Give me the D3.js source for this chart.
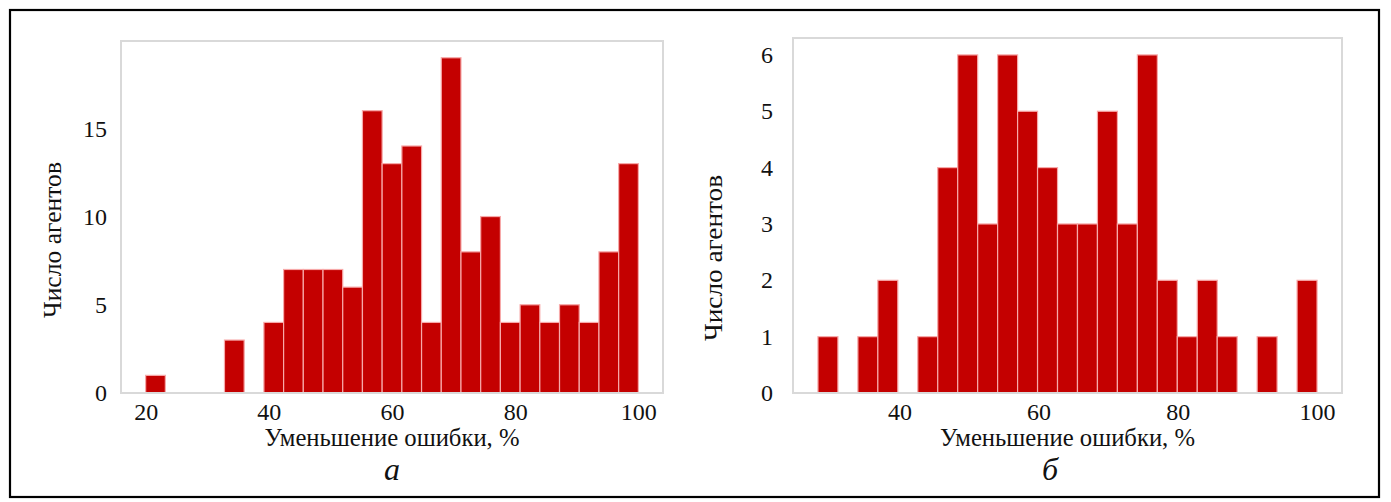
<!DOCTYPE html>
<html>
<head>
<meta charset="utf-8">
<script src="https://cdn.jsdelivr.net/npm/d3@7"></script>
<style>
  body { margin: 0; background: #fff; }
  text { font-family: "Liberation Serif", "Times New Roman", serif; fill: #111; }
</style>
</head>
<body>
<script>
const w = 1391;
const h = 502;

// histogram a: 25 bins from 20 to 100
const countsA = [1, 0, 0, 0, 3, 0, 4, 7, 7, 7, 6, 16, 13, 14, 4, 19, 8, 10, 4, 5, 4, 5, 4, 8, 13];
const rangeA = [20, 100];
const xTicksA = [20, 40, 60, 80, 100];
const yTicksA = [0, 5, 10, 15];

// histogram б: 25 bins from 28.3 to 100
const countsB = [1, 0, 1, 2, 0, 1, 4, 6, 3, 6, 5, 4, 3, 3, 5, 3, 6, 2, 1, 2, 1, 0, 1, 0, 2];
const rangeB = [28.3, 100];
const xTicksB = [40, 60, 80, 100];
const yTicksB = [0, 1, 2, 3, 4, 5, 6];

const xTitle = "Уменьшение ошибки, %";
const yTitle = "Число агентов";

const svg = d3.select("body")
  .append("svg")
  .attr("width", w)
  .attr("height", h);

svg.append("rect")
  .attr("x", 10).attr("y", 10)
  .attr("width", 1369).attr("height", 487)
  .attr("fill", "none")
  .attr("stroke", "#000")
  .attr("stroke-width", 2.2);

function drawHist(p) {
  const n = p.counts.length;
  const step = (p.range[1] - p.range[0]) / n;
  const pad = (p.range[1] - p.range[0]) * 0.05;
  const yMax = d3.max(p.counts) * 1.05;

  const xScale = d3.scaleLinear()
    .domain([p.range[0] - pad, p.range[1] + pad])
    .range([p.left, p.right]);
  const yScale = d3.scaleLinear()
    .domain([0, yMax])
    .range([p.bottom, p.top]);

  const g = svg.append("g");

  const bins = p.counts.map((c, i) => ({ c: c, x0: p.range[0] + i * step }))
    .filter(d => d.c > 0);

  g.selectAll("rect.bar")
    .data(bins)
    .enter()
    .append("rect")
    .attr("class", "bar")
    .attr("x", d => xScale(d.x0))
    .attr("width", xScale(p.range[0] + step) - xScale(p.range[0]))
    .attr("y", d => yScale(d.c))
    .attr("height", d => yScale(0) - yScale(d.c))
    .attr("fill", "#c40000")
    .attr("stroke", "#f7a9a9")
    .attr("stroke-width", 1.2);

  g.append("rect")
    .attr("x", p.left).attr("y", p.top)
    .attr("width", p.right - p.left)
    .attr("height", p.bottom - p.top)
    .attr("fill", "none")
    .attr("stroke", "#d9d9d9")
    .attr("stroke-width", 2);

  const xAxis = d3.axisBottom(xScale)
    .tickValues(p.xTicks)
    .tickFormat(d3.format("d"))
    .tickSize(0)
    .tickPadding(10);
  const yAxis = d3.axisLeft(yScale)
    .tickValues(p.yTicks)
    .tickFormat(d3.format("d"))
    .tickSize(0)
    .tickPadding(p.yPad);

  const gx = g.append("g")
    .attr("transform", "translate(0," + p.bottom + ")")
    .call(xAxis);
  const gy = g.append("g")
    .attr("transform", "translate(" + p.left + ",0)")
    .call(yAxis);
  [gx, gy].forEach(a => {
    a.select(".domain").remove();
    a.selectAll("text")
      .attr("font-family", "Liberation Serif")
      .attr("font-size", 24)
      .attr("fill", "#111");
  });

  g.append("text")
    .attr("x", (p.left + p.right) / 2)
    .attr("y", 446)
    .attr("text-anchor", "middle")
    .attr("font-size", 25)
    .attr("textLength", 255)
    .attr("lengthAdjust", "spacingAndGlyphs")
    .text(xTitle);

  g.append("text")
    .attr("transform", "translate(" + p.yLabelX + "," + p.yLabelY + ") rotate(-90)")
    .attr("text-anchor", "middle")
    .attr("font-size", 25)
    .attr("textLength", p.yLabelLen)
    .attr("lengthAdjust", "spacingAndGlyphs")
    .text(yTitle);

  g.append("text")
    .attr("x", p.tagX)
    .attr("y", 480)
    .attr("text-anchor", "middle")
    .attr("font-size", 32)
    .attr("font-style", "italic")
    .text(p.tag);
}

drawHist({
  counts: countsA, range: rangeA, xTicks: xTicksA, yTicks: yTicksA,
  left: 121, right: 663, top: 41, bottom: 393,
  yPad: 14, yLabelX: 61, yLabelY: 240, yLabelLen: 156, tag: "а", tagX: 392
});

drawHist({
  counts: countsB, range: rangeB, xTicks: xTicksB, yTicks: yTicksB,
  left: 793, right: 1342, top: 38, bottom: 393,
  yPad: 20, yLabelX: 722, yLabelY: 258, yLabelLen: 166, tag: "б", tagX: 1050
});
</script>
</body>
</html>
